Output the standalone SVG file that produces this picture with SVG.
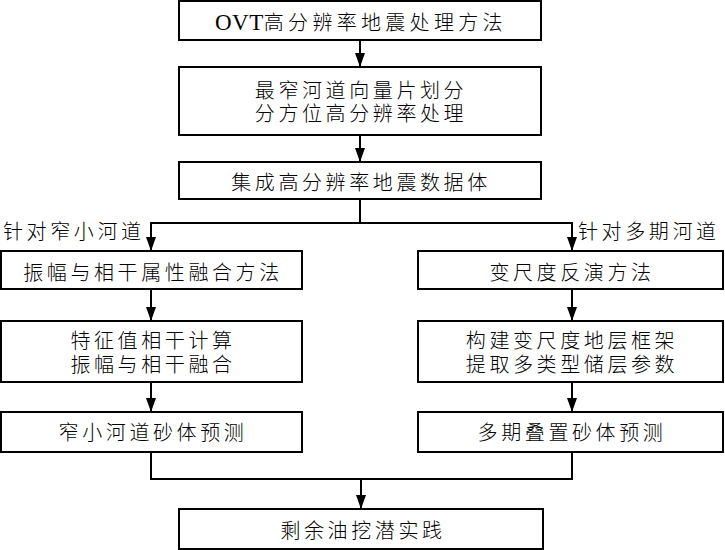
<svg xmlns="http://www.w3.org/2000/svg" width="725" height="550" viewBox="0 0 725 550">
<style>
.box{fill:#fff;stroke:#000;stroke-width:2}
.t{font-family:"Liberation Serif","Noto Sans CJK SC",serif;font-size:20px;font-weight:300;letter-spacing:3.6px;fill:#000}
.m{text-anchor:middle}
.lat{font-size:23px;font-weight:400;letter-spacing:0.5px}
.wide{letter-spacing:4.3px}
.ln{fill:none;stroke:#000;stroke-width:2}
</style>
<defs>
<marker id="ah" markerUnits="userSpaceOnUse" markerWidth="14" markerHeight="12" refX="14" refY="5" orient="auto" viewBox="0 0 14 10">
<path d="M0,0 L14,5 L0,10 Z" fill="#000"/>
</marker>
</defs>
<rect width="725" height="550" fill="#fff"/>
<g id="connectors">
<line class="ln" x1="360" y1="40" x2="360" y2="67" marker-end="url(#ah)"/>
<line class="ln" x1="360" y1="135" x2="360" y2="162" marker-end="url(#ah)"/>
<polyline class="ln" points="360,199 360,223"/>
<polyline class="ln" points="151,251 151,223 572,223 572,251"/>
<line class="ln" x1="151" y1="224" x2="151" y2="251" marker-end="url(#ah)"/>
<line class="ln" x1="572" y1="224" x2="572" y2="251" marker-end="url(#ah)"/>
<line class="ln" x1="151" y1="289" x2="151" y2="321" marker-end="url(#ah)"/>
<line class="ln" x1="151" y1="382" x2="151" y2="412" marker-end="url(#ah)"/>
<line class="ln" x1="572" y1="289" x2="572" y2="321" marker-end="url(#ah)"/>
<line class="ln" x1="572" y1="382" x2="572" y2="412" marker-end="url(#ah)"/>
<polyline class="ln" points="151,452 151,479 572,479 572,452"/>
<line class="ln" x1="361" y1="479" x2="361" y2="509" marker-end="url(#ah)"/>
<text class="t" x="3" y="239">针对窄小河道</text>
<text class="t" x="578" y="239">针对多期河道</text>
</g>
<g id="n1"><rect class="box" x="179" y="1" width="362" height="39"/><text class="t wide" x="215" y="30"><tspan class="lat">OVT</tspan>高分辨率地震处理方法</text></g>
<g id="n2"><rect class="box" x="179" y="67" width="362" height="68"/><text class="t m" x="361" y="98">最窄河道向量片划分</text><text class="t m" x="361" y="121">分方位高分辨率处理</text></g>
<g id="n3"><rect class="box" x="179" y="162" width="362" height="37"/><text class="t m" x="361" y="190">集成高分辨率地震数据体</text></g>
<g id="l1"><rect class="box" x="1" y="251" width="301" height="38"/><text class="t m" x="153" y="280">振幅与相干属性融合方法</text></g>
<g id="l2"><rect class="box" x="1" y="321" width="301" height="61"/><text class="t m" x="153" y="348">特征值相干计算</text><text class="t m" x="153" y="372">振幅与相干融合</text></g>
<g id="l3"><rect class="box" x="1" y="412" width="301" height="40"/><text class="t m" x="153" y="440">窄小河道砂体预测</text></g>
<g id="r1"><rect class="box" x="418" y="251" width="305" height="38"/><text class="t m" x="572" y="280">变尺度反演方法</text></g>
<g id="r2"><rect class="box" x="418" y="321" width="305" height="61"/><text class="t m" x="572" y="348">构建变尺度地层框架</text><text class="t m" x="572" y="372">提取多类型储层参数</text></g>
<g id="r3"><rect class="box" x="418" y="412" width="305" height="40"/><text class="t m" x="572" y="440">多期叠置砂体预测</text></g>
<g id="b1"><rect class="box" x="179" y="509" width="364" height="40"/><text class="t m" x="363" y="538">剩余油挖潜实践</text></g>
</svg>
